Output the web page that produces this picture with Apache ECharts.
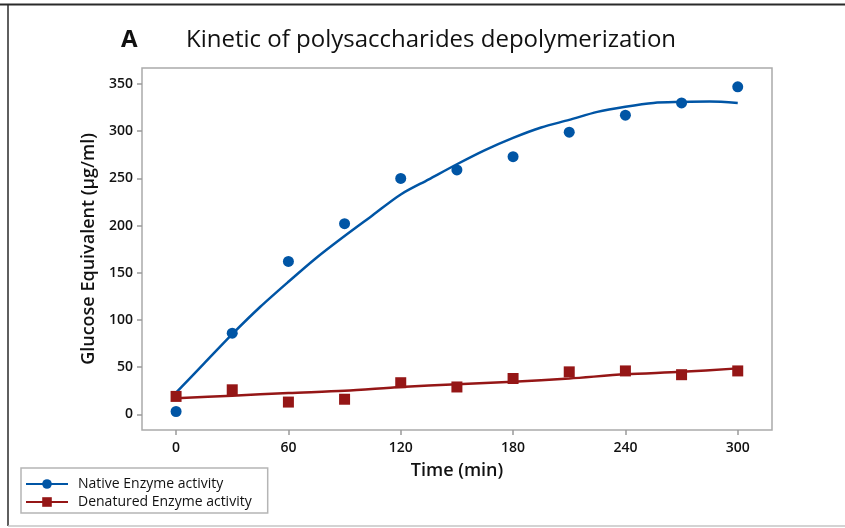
<!DOCTYPE html>
<html>
<head>
<meta charset="utf-8">
<title>Kinetic of polysaccharides depolymerization</title>
<script src="https://cdn.jsdelivr.net/npm/echarts@6/dist/echarts.min.js"></script>
<style>
  html, body { margin: 0; padding: 0; background: #fff; }
  #chart { width: 845px; height: 528px; }
</style>
</head>
<body>
<div id="chart"></div>
<script>
// Sampling times (min) of the measured points
const sampleTimes = [0, 30, 60, 90, 120, 150, 180, 210, 240, 270, 300];
// Measured glucose equivalent (µg/ml)
const nativeValues = [3, 86, 162, 202, 250, 259, 273, 299, 317, 330, 347];
const denaturedValues = [19, 26, 13, 16, 33.5, 29, 38, 45, 46, 42, 46];

// Smoothed trend curves
const nativeFitTimes = [0, 15, 30, 45, 60, 75, 90, 105, 120, 135, 150, 165, 180, 195, 210, 225, 240, 255, 270, 285, 300];
const nativeFitValues = [23, 54, 85, 114, 140.5, 166, 189, 211, 233, 249, 265, 280, 293, 304, 312, 320.5, 326, 330, 331, 331.5, 330];
const denaturedFitTimes = [0, 30, 60, 90, 120, 150, 180, 210, 240, 270, 300];
const denaturedFitValues = [17, 19.7, 22.6, 25, 29, 32, 34.5, 38, 42.4, 45, 48.7];

// Axis tick labels
const xTicks = [0, 60, 120, 180, 240, 300];
const yTicks = [0, 50, 100, 150, 200, 250, 300, 350];

const NATIVE = 'Native Enzyme activity';
const DENATURED = 'Denatured Enzyme activity';
const BLUE = '#0055a5';
const RED = '#951616';
const FONT = '"Open Sans", "Noto Sans", sans-serif';
const INK = '#111111';

const zip = (xs, ys) => xs.map((x, i) => [x, ys[i]]);

const chart = echarts.init(document.getElementById('chart'), null, { renderer: 'canvas' });

chart.setOption({
  animation: false,
  backgroundColor: '#ffffff',
  textStyle: { fontFamily: FONT },
  title: [
    {
      text: 'A', left: 121, top: 28, padding: 0,
      textStyle: { fontFamily: FONT, fontSize: 24, fontWeight: 'bold', color: INK }
    },
    {
      text: 'Kinetic of polysaccharides depolymerization', left: 186, top: 28, padding: 0,
      textStyle: { fontFamily: FONT, fontSize: 24, fontWeight: 500, color: INK }
    }
  ],
  grid: {
    left: 142, top: 68, width: 630, height: 362,
    show: true, borderColor: '#ababab', borderWidth: 1.5, backgroundColor: 'transparent'
  },
  legend: {
    orient: 'vertical', left: 21, top: 468,
    itemWidth: 42, itemHeight: 12, itemGap: 4,
    padding: [9, 16, 4, 4],
    borderColor: '#b5b5b5', borderWidth: 1.5, borderRadius: 0,
    textStyle: { fontFamily: FONT, fontSize: 14, color: INK, padding: [0, 0, 0, 5] },
    data: [NATIVE, DENATURED]
  },
  xAxis: {
    type: 'value', min: -18.2, max: 318.3,
    name: 'Time (min)', nameLocation: 'middle', nameGap: 32,
    nameTextStyle: { fontFamily: FONT, fontSize: 18, fontWeight: 600, color: INK },
    axisLine: { show: false, onZero: false },
    splitLine: { show: false },
    axisTick: { show: true, length: 5, inside: false, customValues: xTicks, lineStyle: { color: '#9a9a9a', width: 1.5 } },
    axisLabel: { customValues: xTicks, margin: 11, fontFamily: FONT, fontSize: 14, fontWeight: 600, color: INK }
  },
  yAxis: {
    type: 'value', min: -16.6, max: 367,
    name: 'Glucose Equivalent (µg/ml)', nameLocation: 'middle', nameGap: 44,
    nameTextStyle: { fontFamily: FONT, fontSize: 18, fontWeight: 600, color: INK },
    axisLine: { show: false, onZero: false },
    splitLine: { show: false },
    axisTick: { show: true, length: 5, inside: false, customValues: yTicks, lineStyle: { color: '#9a9a9a', width: 1.5 } },
    axisLabel: { customValues: yTicks, margin: 9, fontFamily: FONT, fontSize: 14, fontWeight: 600, color: INK }
  },
  series: [
    {
      name: NATIVE, type: 'line', data: zip(nativeFitTimes, nativeFitValues),
      symbol: 'circle', showSymbol: false, smooth: 0.3,
      lineStyle: { color: BLUE, width: 2.5 }, itemStyle: { color: BLUE }, z: 2
    },
    {
      name: DENATURED, type: 'line', data: zip(denaturedFitTimes, denaturedFitValues),
      symbol: 'rect', showSymbol: false, smooth: 0.3,
      lineStyle: { color: RED, width: 2.5 }, itemStyle: { color: RED }, z: 2
    },
    {
      name: NATIVE, type: 'scatter', data: zip(sampleTimes, nativeValues),
      symbol: 'circle', symbolSize: 11, itemStyle: { color: BLUE, opacity: 1 }, z: 3
    },
    {
      name: DENATURED, type: 'scatter', data: zip(sampleTimes, denaturedValues),
      symbol: 'rect', symbolSize: 11, itemStyle: { color: RED, opacity: 1 }, z: 3
    }
  ],
  graphic: [
    { type: 'line', shape: { x1: 0, y1: 4.5, x2: 845, y2: 4.5 }, style: { stroke: '#2a2a2a', lineWidth: 2 }, silent: true },
    { type: 'line', shape: { x1: 8, y1: 4, x2: 8, y2: 526 }, style: { stroke: '#2a2a2a', lineWidth: 1.5 }, silent: true },
    { type: 'line', shape: { x1: 8, y1: 526, x2: 845, y2: 526 }, style: { stroke: '#c4c4c4', lineWidth: 1.5 }, silent: true }
  ]
});
</script>
</body>
</html>
